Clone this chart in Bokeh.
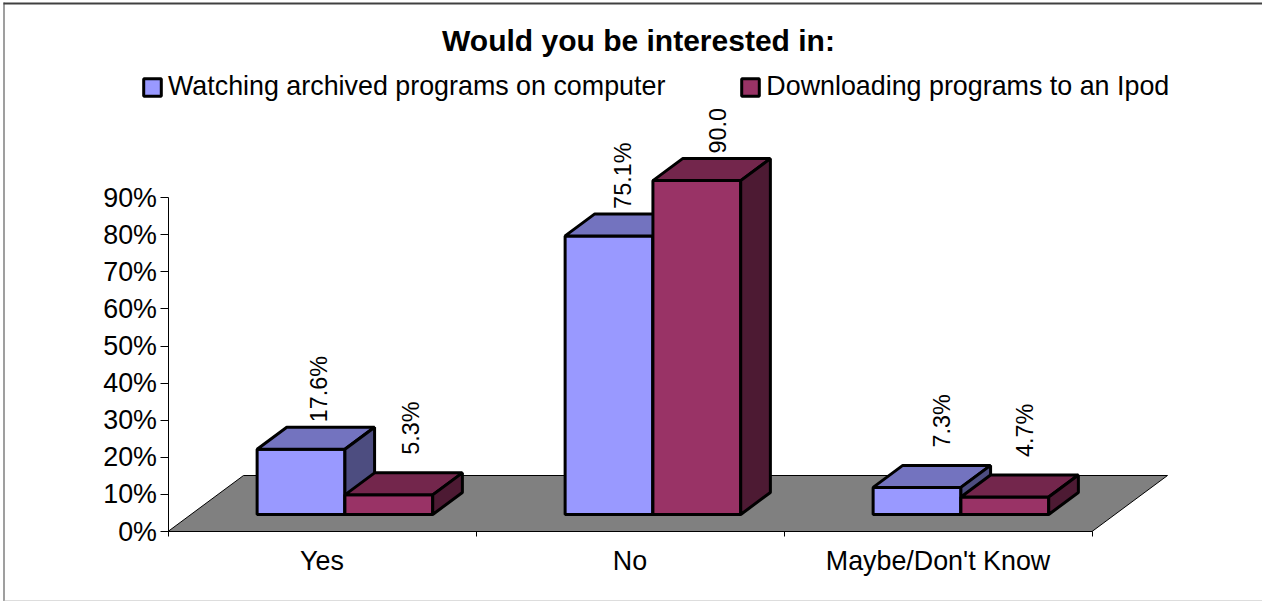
from bokeh.plotting import figure
from bokeh.models import (Range1d, FixedTicker, Legend, LegendItem, BoxAnnotation, Label,
                          LinearAxis)
from bokeh.core.properties import value
from bokeh.embed import file_html
from bokeh.resources import INLINE

categories = ["Yes", "No", "Maybe/Don't Know"]
series_names = ["Watching archived programs on computer", "Downloading programs to an Ipod"]
watching = [17.6, 75.1, 7.3]
downloading = [5.3, 90.0, 4.7]
watching_labels = ["17.6%", "75.1%", "7.3%"]
downloading_labels = ["5.3%", "90.0", "4.7%"]
y_ticks = [0, 10, 20, 30, 40, 50, 60, 70, 80, 90]
title_text = "Would you be interested in:"

FONT = "Liberation Sans"
FS = "26.85px"
FS_LABEL = "23.4px"

# layout (canvas px): the plot frame fills the canvas, axes sit at data zero
W, H = 1262, 601
AX_L, AX_B = 167.5, 531
PX_X = 924 / 3
PX_Y = 3.71

p = figure(width=W, height=H, output_backend="svg", toolbar_location=None,
           x_range=Range1d(-AX_L / PX_X, (W - AX_L) / PX_X),
           y_range=Range1d(-(H - AX_B) / PX_Y, AX_B / PX_Y),
           min_border_left=0, min_border_right=0, min_border_bottom=0, min_border_top=0,
           x_axis_type=None, y_axis_type=None, tools="")
p.outline_line_color = None
p.grid.visible = False
p.background_fill_color = "white"
p.border_fill_color = "white"

p.add_layout(Label(x=(638 - AX_L) / PX_X, y=(AX_B - 40) / PX_Y, text=title_text, text_font=FONT,
                   text_font_size="30px", text_font_style="bold", text_color="black",
                   text_align="center", text_baseline="middle"))

# x axis
xa = LinearAxis(ticker=FixedTicker(ticks=[0.5, 1.5, 2.5], minor_ticks=[0, 1, 2, 3]), fixed_location=0,
                major_label_overrides={i + 0.5: c for i, c in enumerate(categories)},
                bounds=(0, 3), major_tick_in=0, major_tick_out=0,
                minor_tick_in=0, minor_tick_out=5, major_label_standoff=9,
                major_label_text_font=FONT, major_label_text_font_size=FS,
                major_label_text_color="black", axis_line_color="black", minor_tick_line_color="black")
p.add_layout(xa, "below")

# y axis
ya = LinearAxis(ticker=FixedTicker(ticks=y_ticks), fixed_location=0,
                major_label_overrides={v: f"{v}%" for v in y_ticks},
                bounds=(0, 90), major_tick_in=0, major_tick_out=8, minor_tick_out=0, minor_tick_in=0,
                major_label_standoff=3, major_label_text_font=FONT, major_label_text_font_size=FS,
                major_label_text_color="black", axis_line_color="black", major_tick_line_color="black")
p.add_layout(ya, "left")

# oblique projection (data units per unit of depth)
DEPTH_X = 75.5 / PX_X
DEPTH_Y = 56 / PX_Y
# floor
p.patch([0, 3, 3 + DEPTH_X, DEPTH_X], [0, 0, DEPTH_Y, DEPTH_Y],
        fill_color="#808080", line_color="black", line_width=1)

BAR_W = 87.8 / PX_X
GAP = (1 - 2 * BAR_W) / 2
FRONT = 17 / 56   # share of depth in front of the bars
BAR_D = 22 / 56   # share of depth taken by the bars
bx = FRONT * DEPTH_X
by = FRONT * DEPTH_Y
dx = BAR_D * DEPTH_X
dy = BAR_D * DEPTH_Y
LW = 3


def draw(values, k, front, top, side):
    x0 = [i + GAP + k * BAR_W + bx for i in range(len(values))]
    x1 = [x + BAR_W for x in x0]
    y0 = [by] * len(values)
    y1 = [by + v for v in values]
    r = p.quad(left=x0, right=x1, bottom=y0, top=y1, fill_color=front, line_color="black", line_width=LW)
    p.patches([[a, b, b + dx, a + dx] for a, b in zip(x0, x1)],
              [[t, t, t + dy, t + dy] for t in y1],
              fill_color=top, line_color="black", line_width=LW)
    p.patches([[b, b + dx, b + dx, b] for b in x1],
              [[s, s + dy, t + dy, t] for s, t in zip(y0, y1)],
              fill_color=side, line_color="black", line_width=LW)
    return r, x0, y1


r1, x1s, t1s = draw(watching, 0, "#9999FF", "#7373BF", "#4D4D80")
r2, x2s, t2s = draw(downloading, 1, "#993366", "#73264C", "#4D1A33")


def labels(xs, tops, vals, texts, nudge):
    lx = [x + BAR_W / 2 + dx / 2 + n / PX_X for x, n in zip(xs, nudge)]
    ly = [t + dy + (18 if v < 10 else 5) / PX_Y for t, v in zip(tops, vals)]
    p.text(x=lx, y=ly, text=texts, angle=1.5708, text_font=value(FONT), text_font_size=FS_LABEL,
           text_color="black", text_align="left", text_baseline="middle")


labels(x1s, t1s, watching, watching_labels, (3, -1, 10))
labels(x2s, t2s, downloading, downloading_labels, (7, 6, 5))

legend = Legend(items=[LegendItem(label=series_names[0], renderers=[r1]),
                       LegendItem(label=series_names[1], renderers=[r2])],
                orientation="horizontal", location=(141, 499), margin=0, padding=0, spacing=74,
                border_line_color=None, background_fill_alpha=0,
                glyph_width=22, glyph_height=22, label_standoff=5,
                label_text_font=FONT, label_text_font_size=FS, label_text_color="black",
                label_height=22)
p.add_layout(legend, "center")

# chart area border
for kw, col in [(dict(left=3, right=W, top=2, bottom=4), "#404040"),
                (dict(left=3, right=4, top=2, bottom=H), "#404040"),
                (dict(left=3, right=W, top=H - 1, bottom=H), "#BBBBBB")]:
    p.add_layout(BoxAnnotation(left_units="canvas", right_units="canvas", top_units="canvas",
                               bottom_units="canvas", fill_color=col, fill_alpha=1, line_color=None,
                               level="overlay", **kw))

open("out.html", "w").write(file_html(p, INLINE))
